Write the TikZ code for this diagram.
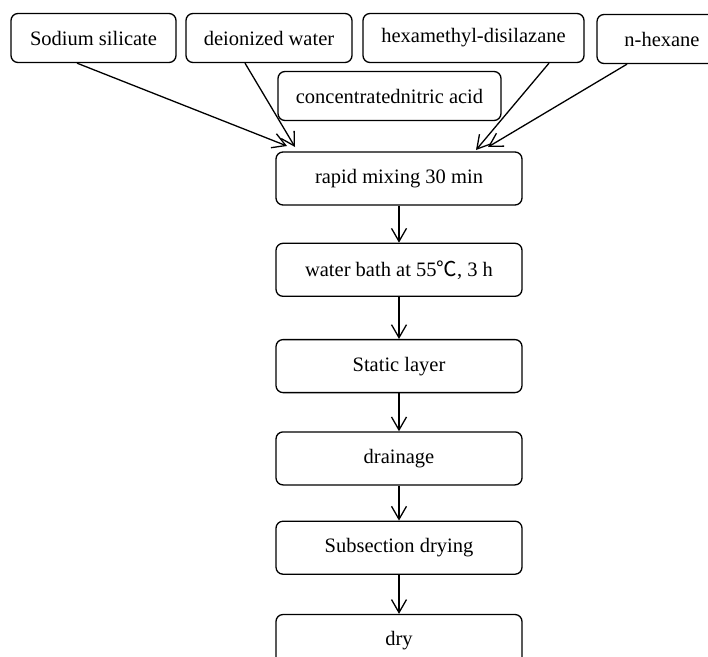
\documentclass[tikz,border=0pt]{standalone}
\usepackage{fontspec}
\setmainfont{Liberation Serif}
\newfontfamily\cjk{Noto Sans CJK SC}
\usetikzlibrary{positioning}
\usetikzlibrary{arrows.meta}

\begin{document}
\begin{tikzpicture}[x=1pt, y=-1pt,
                    inbox/.style={rectangle, draw, rounded corners=7pt, line width=1.3pt, minimum height=49pt, font=\fontsize{20.5}{24}\selectfont},
                    stepbox/.style={rectangle, draw, rounded corners=7pt, line width=1.3pt, minimum width=246pt, minimum height=53pt, font=\fontsize{20.5}{24}\selectfont},
                    flow/.style={-{Straight Barb[length=13pt, width=15pt]}, line width=1.3pt}
                   ]
\useasboundingbox (0,0) rectangle (708,656);
\clip (0,0) rectangle (708,656);
%Nodes
\node[inbox, minimum width=165pt] (sodium) at (93.5,38)  {Sodium silicate};
\node[inbox, minimum width=166pt] (water)  at (269,38)   {deionized water};
\node[inbox, minimum width=221pt] (hmds)   at (473.5,38) {hexamethyl-disilazane};
\node[inbox, minimum width=130pt] (hexane) at (662,39)   {n-hexane};
\node[inbox, minimum width=223pt] (acid)   at (389.5,96) {concentratednitric acid};

\node[stepbox] (mix)                       at (399,178.5) {rapid mixing 30 min};
\node[stepbox] (bath)     [below=37pt of mix]      {water bath at 55{\cjk ℃}, 3 h};
\node[stepbox] (layer)    [below=42pt of bath]     {Static layer};
\node[stepbox] (drain)    [below=38pt of layer]    {drainage};
\node[stepbox] (subdry)   [below=35pt of drain]    {Subsection drying};
\node[stepbox] (dry)      [below=39pt of subdry]   {dry};

\coordinate (in1) at (287,146);
\coordinate (in2) at (295,147);
\coordinate (in3) at (476,150);
\coordinate (in4) at (488,147);
% %Lines
\draw[flow] ([xshift=-16.5pt]sodium.south) -- (in1);
\draw[flow] ([xshift=-24pt]water.south)    -- (in2);
\draw[flow] ([xshift=75.5pt]hmds.south)    -- (in3);
\draw[flow] ([xshift=-35pt]hexane.south)   -- (in4);

\draw[flow] (mix.south)    -- (bath.north);
\draw[flow] (bath.south)   -- (layer.north);
\draw[flow] (layer.south)  -- (drain.north);
\draw[flow] (drain.south)  -- (subdry.north);
\draw[flow] (subdry.south) -- (dry.north);
\end{tikzpicture}
\end{document}
